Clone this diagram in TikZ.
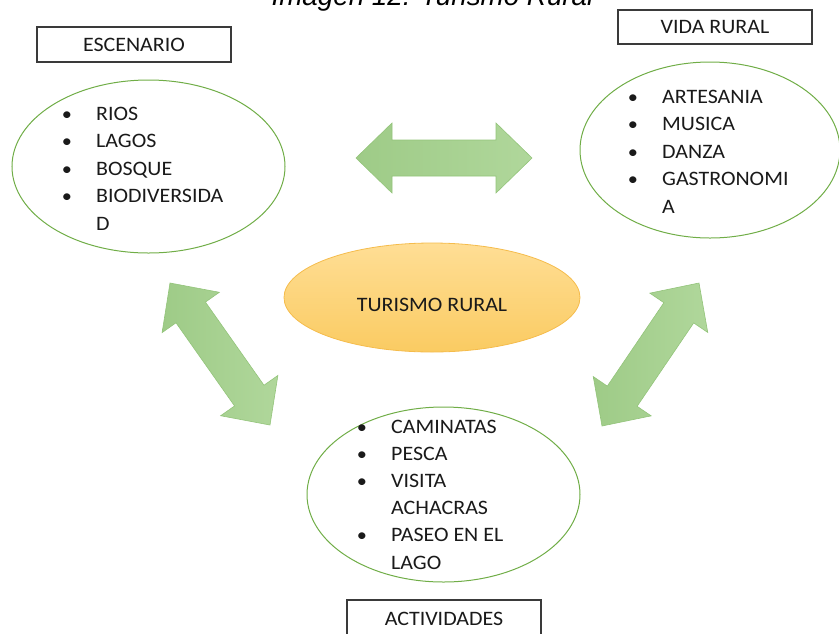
\documentclass[tikz,border=0pt]{standalone}
\usepackage{fontspec}
\setmainfont{Carlito}[FakeStretch=1.07]
\newfontfamily\titlefont{Liberation Sans}
\usetikzlibrary{shapes.geometric}
\definecolor{ellgreen}{HTML}{70AD47}
\definecolor{arrowA}{HTML}{9ECB87}
\definecolor{arrowB}{HTML}{B0D79B}
\definecolor{arrowline}{HTML}{93C47A}
\definecolor{goldtop}{HTML}{FFDE95}
\definecolor{goldbot}{HTML}{FACB62}
\definecolor{goldline}{HTML}{F5BC4C}
\definecolor{boxline}{HTML}{3A3A3A}
\definecolor{inktext}{HTML}{1A1A1A}
\begin{document}
\begin{tikzpicture}[x=1pt,y=-1pt,
  txt/.style={font=\fontsize{20.5}{27.5}\selectfont, text=inktext, inner sep=0pt, anchor=base west},
  bul/.style={font=\fontsize{19}{27.5}\selectfont, text=inktext, inner sep=0pt, anchor=base},
  labelbox/.style={draw=boxline, line width=1.1pt, fill=white, inner sep=0pt, text=inktext, font=\fontsize{20.5}{24}\selectfont},
  greenell/.style={ellipse, draw=ellgreen, line width=1pt, inner sep=0pt},
  blockarrow/.style={left color=arrowA, right color=arrowB, draw=arrowline, line width=0.6pt, line join=miter}
]
\useasboundingbox (0,0) rectangle (839,633);
\clip (0,0) rectangle (839,633);

% title (cut off at top, as in the reference)
\node[font=\titlefont\itshape\fontsize{27.8}{30}\selectfont, anchor=base, inner sep=0pt] (title) at (432.5,5) {Imagen 12: Turismo Rural};

% block arrows
\begin{scope}[shift={(356,158)}]
\path[blockarrow] (0,0) -- (36,-35) -- (36,-18) -- (140,-18) -- (140,-35) -- (176,0) -- (140,35) -- (140,18) -- (36,18) -- (36,35) -- cycle;
\end{scope}
\begin{scope}[shift={(170,283)}, rotate=-54.85]
\path[blockarrow] (0,0) -- (36,-35) -- (36,-18) -- (137.7,-18) -- (137.7,-35) -- (173.7,0) -- (137.7,35) -- (137.7,18) -- (36,18) -- (36,35) -- cycle;
\end{scope}
\begin{scope}[shift={(602,426)}, rotate=55.85]
\path[blockarrow] (0,0) -- (36,-35) -- (36,-18) -- (136.8,-18) -- (136.8,-35) -- (172.8,0) -- (136.8,35) -- (136.8,18) -- (36,18) -- (36,35) -- cycle;
\end{scope}

% ellipses
\node[greenell, minimum width=273pt, minimum height=173pt] (escenario) at (148.5,166.5) {};
\node[greenell, minimum width=260pt, minimum height=176pt] (vida) at (710,150) {};
\node[greenell, minimum width=273pt, minimum height=175pt] (actividades) at (443.5,494.5) {};
\node[ellipse, inner sep=0pt, minimum width=296pt, minimum height=109pt, top color=goldtop, bottom color=goldbot, draw=goldline, line width=0.8pt] (central) at (432,297.5) {};
\node[txt, anchor=center] (centrallabel) at (432,305) {TURISMO RURAL};

% label boxes
\node[labelbox, minimum width=194pt, minimum height=35pt] (escbox) at (134,44.5) {ESCENARIO};
\node[labelbox, minimum width=194pt, minimum height=34pt] (vidabox) at (715,27) {VIDA RURAL};
\node[labelbox, minimum width=194pt, minimum height=38pt] (actbox) at (444,619) {ACTIVIDADES};

% ESCENARIO list
\node[bul] (eb1) at (67,120) {\textbullet};
\node[bul] (eb2) at (67,147.5) {\textbullet};
\node[bul] (eb3) at (67,175) {\textbullet};
\node[bul] (eb4) at (67,202.5) {\textbullet};
\node[txt] (et1) at (96,120) {RIOS};
\node[txt] (et2) at (96,147.5) {LAGOS};
\node[txt] (et3) at (96,175) {BOSQUE};
\node[txt] (et4) at (96,202.5) {BIODIVERSIDA};
\node[txt] (et5) at (96,230) {D};

% VIDA RURAL list
\node[bul] (vb1) at (633,103) {\textbullet};
\node[bul] (vb2) at (633,130.5) {\textbullet};
\node[bul] (vb3) at (633,158) {\textbullet};
\node[bul] (vb4) at (633,185.5) {\textbullet};
\node[txt] (vt1) at (662,103) {ARTESANIA};
\node[txt] (vt2) at (662,130.5) {MUSICA};
\node[txt] (vt3) at (662,158) {DANZA};
\node[txt] (vt4) at (662,185.5) {GASTRONOMI};
\node[txt] (vt5) at (662,213) {A};

% ACTIVIDADES list
\node[bul] (ab1) at (362,433) {\textbullet};
\node[bul] (ab2) at (362,460.2) {\textbullet};
\node[bul] (ab3) at (362,487.4) {\textbullet};
\node[bul] (ab4) at (362,541.8) {\textbullet};
\node[txt] (at1) at (391,433) {CAMINATAS};
\node[txt] (at2) at (391,460.2) {PESCA};
\node[txt] (at3) at (391,487.4) {VISITA};
\node[txt] (at4) at (391,514.6) {ACHACRAS};
\node[txt] (at5) at (391,541.8) {PASEO EN EL};
\node[txt] (at6) at (391,569) {LAGO};
\end{tikzpicture}
\end{document}
